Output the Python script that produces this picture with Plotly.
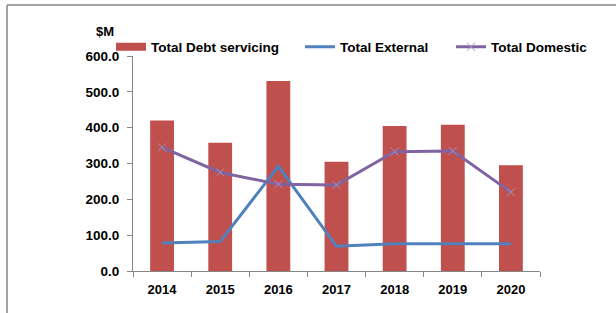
import plotly.graph_objects as go

years = ["2014", "2015", "2016", "2017", "2018", "2019", "2020"]
debt_servicing = [420, 358, 530, 305, 405, 408, 295]
total_external = [78, 82, 292, 69, 76, 76, 76]
total_domestic = [345, 275, 242, 240, 333, 335, 220]
y_ticks = [0, 100, 200, 300, 400, 500, 600]
y_tick_labels = ["0.0", "100.0", "200.0", "300.0", "400.0", "500.0", "600.0"]

FONT = "Liberation Sans"
W, H = 616, 313
L, R, T, B = 133, 76, 56, 42
pw, ph = W - L - R, H - T - B

def px_x(x):
    return (x - L) / pw

def px_y(y):
    return (H - B - y) / ph

fig = go.Figure()
fig.add_trace(go.Bar(
    x=years, y=debt_servicing, name="Total Debt servicing",
    marker=dict(color="#C0504D", line=dict(width=0)),
    width=0.41, showlegend=False,
))
# legend entry drawn as a wide red swatch like the original
fig.add_trace(go.Scatter(
    x=[None], y=[None], name="Total Debt servicing", mode="lines",
    line=dict(color="#C0504D", width=8), legend="legend",
))
fig.add_trace(go.Scatter(
    x=years, y=total_external, name="Total External", mode="lines",
    line=dict(color="#4F81BD", width=3), legend="legend2",
))
fig.add_trace(go.Scatter(
    x=years, y=total_domestic, name="Total Domestic", mode="lines+markers",
    line=dict(color="#8064A2", width=3),
    marker=dict(symbol="x-thin", size=8, line=dict(color="#A493C4", width=1)),
    legend="legend3",
))

leg_common = dict(orientation="h", yanchor="middle", xanchor="left",
                  font=dict(family=FONT, size=13.5, color="#000", weight="bold"),
                  bgcolor="rgba(0,0,0,0)", itemwidth=30)

fig.update_layout(
    width=W, height=H,
    margin=dict(l=L, r=R, t=T, b=B, autoexpand=False),
    paper_bgcolor="white", plot_bgcolor="white",
    showlegend=True,
    legend=dict(x=px_x(111), y=px_y(47), **leg_common),
    legend2=dict(x=px_x(300), y=px_y(47), **leg_common),
    legend3=dict(x=px_x(451), y=px_y(47), **leg_common),
    font=dict(family=FONT, size=13, color="#000"),
    bargap=0.59,
    xaxis=dict(
        type="category", tickson="boundaries", ticks="outside", ticklen=5,
        tickcolor="#868686", showline=True, linecolor="#868686", linewidth=1,
        showgrid=False, tickfont=dict(family=FONT, size=13, color="#000", weight="bold"),
        ticklabelstandoff=6, automargin=False,
    ),
    yaxis=dict(
        range=[0, 600], tickvals=y_ticks, ticktext=y_tick_labels,
        ticks="outside", ticklen=5, tickcolor="#868686",
        showline=True, linecolor="#868686", linewidth=1, showgrid=False,
        zeroline=False, automargin=False,
        tickfont=dict(family=FONT, size=13.5, color="#000", weight="bold"),
        ticklabelstandoff=5,
    ),
    annotations=[dict(
        text="<b>$M</b>", xref="paper", yref="paper",
        x=px_x(94), y=px_y(31), xanchor="left", yanchor="middle",
        showarrow=False, font=dict(family=FONT, size=13, color="#000"),
    )],
    shapes=[
        dict(type="line", xref="paper", yref="paper",
             x0=px_x(7), x1=px_x(7), y0=px_y(313), y1=px_y(5),
             line=dict(color="#868686", width=1.5)),
        dict(type="line", xref="paper", yref="paper",
             x0=px_x(7), x1=px_x(616), y0=px_y(5), y1=px_y(5),
             line=dict(color="#868686", width=1.5)),
    ],
)

fig.write_html(
    "out.html",
    config={"displayModeBar": False},
    post_script="document.body.style.margin='0';document.body.style.overflow='hidden';",
)
